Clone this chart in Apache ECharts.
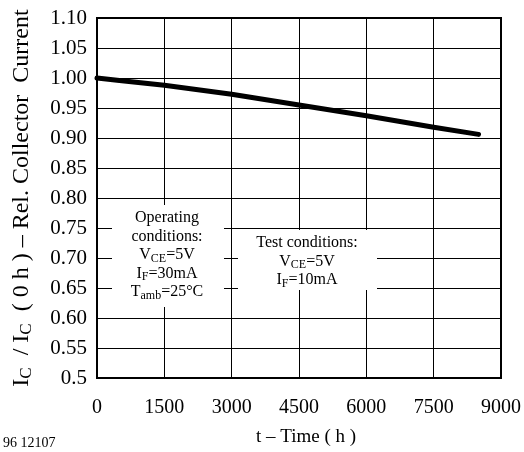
<!DOCTYPE html>
<html>
<head>
<meta charset="utf-8">
<script src="https://cdn.jsdelivr.net/npm/echarts@6/dist/echarts.min.js"></script>
<style>
  html, body { margin: 0; padding: 0; background: #fff; }
  #chart { width: 524px; height: 452px; }
</style>
</head>
<body>
<div id="chart"></div>
<script>
// Operating time (h) and relative collector current I_C / I_C(0 h)
var timeHours = [0, 500, 1500, 3000, 4500, 6000, 7500, 8500];
var relCurrent = [1.000, 0.996, 0.988, 0.973, 0.955, 0.937, 0.918, 0.906];

var xTicks = [0, 1500, 3000, 4500, 6000, 7500, 9000];
var yTicks = [0.5, 0.55, 0.6, 0.65, 0.7, 0.75, 0.8, 0.85, 0.9, 0.95, 1.0, 1.05, 1.1];

var serif = '"Liberation Serif", "DejaVu Serif", serif';

var subRich = {
  n: { fontFamily: serif, fontSize: 16, lineHeight: 18.5, fill: '#000', color: '#000' },
  s: { fontFamily: serif, fontSize: 12, lineHeight: 10, verticalAlign: 'bottom', fill: '#000', color: '#000' }
};

var chart = echarts.init(document.getElementById('chart'), null, { renderer: 'canvas' });

var points = timeHours.map(function (t, i) { return [t, relCurrent[i]]; });

chart.setOption({
  animation: false,
  backgroundColor: '#fff',
  grid: {
    left: 97, right: 23, top: 18, bottom: 69,
    show: true, borderColor: '#000', borderWidth: 2, backgroundColor: 'transparent'
  },
  xAxis: {
    type: 'value',
    min: xTicks[0], max: xTicks[xTicks.length - 1], interval: 1500,
    name: 't – Time ( h )',
    nameLocation: 'middle',
    nameGap: 50,
    nameTextStyle: { fontFamily: serif, fontSize: 19, color: '#000', padding: [0, 0, 0, 14] },
    axisLine: { show: true, lineStyle: { color: '#000', width: 2 } },
    axisTick: { show: false },
    axisLabel: {
      fontFamily: serif, fontSize: 20, color: '#000', margin: 20,
      formatter: function (v) { return String(v); }
    },
    splitLine: { show: true, lineStyle: { color: '#000', width: 1 } }
  },
  yAxis: {
    type: 'value',
    min: yTicks[0], max: yTicks[yTicks.length - 1], interval: 0.05,
    name: '{n|I}{s|C}{n|  / I}{s|C}{n|  ( 0 h ) – Rel. Collector  Current}',
    nameLocation: 'middle',
    nameGap: 62,
    nameRotate: 90,
    nameTextStyle: {
      color: '#000',
      rich: {
        n: { fontFamily: serif, fontSize: 24, color: '#000', lineHeight: 26 },
        s: { fontFamily: serif, fontSize: 17, color: '#000', lineHeight: 15, verticalAlign: 'bottom' }
      }
    },
    axisLine: { show: true, lineStyle: { color: '#000', width: 2 } },
    axisTick: { show: false },
    axisLabel: {
      fontFamily: serif, fontSize: 21, color: '#000', margin: 10,
      formatter: function (v) {
        var r = Math.round(v * 100) / 100;
        return r === 0.5 ? '0.5' : r.toFixed(2);
      }
    },
    splitLine: { show: true, lineStyle: { color: '#000', width: 1 } }
  },
  series: [{
    type: 'line',
    data: points,
    showSymbol: false,
    symbol: 'none',
    smooth: false,
    lineStyle: { color: '#000', width: 5, cap: 'round', join: 'round' },
    z: 5
  }],
  graphic: [
    {
      type: 'rect', z: 50,
      shape: { x: 112, y: 205, width: 112, height: 102 },
      style: { fill: '#fff', stroke: null }
    },
    {
      type: 'text', z: 51,
      x: 167, y: 209,
      style: {
        text: '{n|Operating}\n{n|conditions:}\n{n|V}{s|CE}{n|=5V}\n{n|I}{s|F}{n|=30mA}\n{n|T}{s|amb}{n|=25°C}',
        align: 'center',
        rich: subRich
      }
    },
    {
      type: 'rect', z: 50,
      shape: { x: 238, y: 230, width: 139, height: 60 },
      style: { fill: '#fff', stroke: null }
    },
    {
      type: 'text', z: 51,
      x: 307, y: 234,
      style: {
        text: '{n|Test conditions:}\n{n|V}{s|CE}{n|=5V}\n{n|I}{s|F}{n|=10mA}',
        align: 'center',
        rich: subRich
      }
    },
    {
      type: 'text', z: 51,
      x: 3, y: 436,
      style: { text: '96 12107', font: '14px ' + serif, fill: '#000' }
    }
  ]
});
</script>
</body>
</html>
